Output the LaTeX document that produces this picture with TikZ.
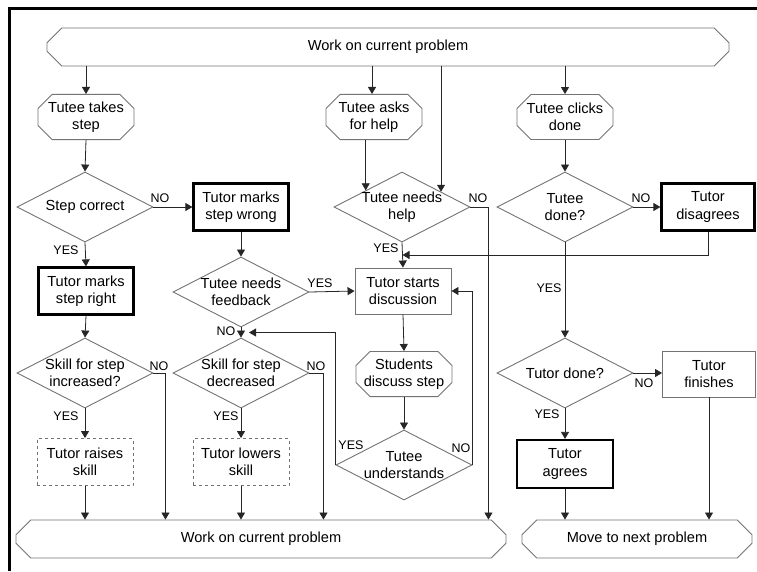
\documentclass[tikz,border=0pt]{standalone}
\usepackage{fontspec}
\setmainfont{Liberation Sans}
\usetikzlibrary{shapes.geometric,shapes.misc,arrows.meta,calc}
\begin{document}
\begin{tikzpicture}[x=1pt,y=-1pt,
  mainf/.style={font=\fontsize{14.6}{17.5}\selectfont, align=center},
  lab/.style={font=\fontsize{12.5}{14}\selectfont, inner sep=0pt},
  shapeline/.style={draw=black!55, line width=0.9pt},
  bar/.style={chamfered rectangle, chamfered rectangle xsep=7pt, chamfered rectangle ysep=8pt, shapeline, mainf, minimum height=38pt, inner sep=0pt},
  oct/.style={chamfered rectangle, chamfered rectangle xsep=7pt, chamfered rectangle ysep=7pt, shapeline, mainf, minimum width=96pt, minimum height=45pt, inner sep=0pt},
  box/.style={rectangle, shapeline, mainf, minimum width=95pt, minimum height=47pt, inner sep=0pt},
  tbox/.style={box, draw=black, line width=2.2pt},
  dbox/.style={box, dashed},
  dia/.style={diamond, shapeline, minimum width=136pt, minimum height=70pt, inner sep=0pt},
  arr/.style={draw=black!85, line width=0.8pt, -{Triangle[length=7pt,width=8pt]}},
  conn/.style={draw=black!85, line width=0.8pt}
]
\useasboundingbox (0,0) rectangle (757,571);
\draw[line width=3pt] (9,571) -- (9,8) -- (758,8);

% bars
\node[bar, minimum width=682pt] (top) at (388,47) {Work on current problem};
\node[bar, minimum width=490pt] (bot1) at (261,539) {Work on current problem};
\node[bar, minimum width=230pt] (bot2) at (637,539) {Move to next problem};

% octagons
\node[oct] (takes) at (86,117) {Tutee takes\\step};
\node[oct] (asks) at (374,117) {Tutee asks\\for help};
\node[oct] (clicks) at (565,117) {Tutee clicks\\done};
\node[oct] (stud) at (404,374) {Students\\discuss step};

% diamonds
\node[dia, label={[mainf]center:Step correct}] (stepc) at (85,207) {};
\node[dia, label={[mainf]center:Tutee needs\\feedback}] (fb) at (241,292) {};
\node[dia, label={[mainf]center:Skill for step\\increased?}] (inc) at (85,373) {};
\node[dia, label={[mainf]center:Skill for step\\decreased}] (dec) at (241,373) {};
\node[dia, label={[mainf]center:Tutee needs\\help}] (help) at (402,207) {};
\node[dia, label={[mainf]center:Tutee\\understands}] (und) at (404,465) {};
\node[dia, label={[mainf]center:Tutee\\done?}] (done) at (565,207) {};
\node[dia, label={[mainf]center:Tutor done?}] (tdone) at (565,373) {};

% boxes
\node[tbox] (wrong) at (241,207) {Tutor marks\\step wrong};
\node[tbox] (right) at (86,291) {Tutor marks\\step right};
\node[dbox, minimum width=96pt] (raise) at (85,462) {Tutor raises\\skill};
\node[dbox, minimum width=96pt] (lower) at (241,462) {Tutor lowers\\skill};
\node[box, minimum width=96pt, minimum height=46pt] (disc) at (403,291) {Tutor starts\\discussion};
\node[tbox, minimum width=93pt] (disag) at (708,207) {Tutor\\disagrees};
\node[box, minimum width=93pt, minimum height=46pt] (fin) at (709,374) {Tutor\\finishes};
\node[tbox, minimum width=96pt, minimum height=48pt] (agree) at (565,464) {Tutor\\agrees};

% helper coordinates
\coordinate (hl) at ($(help.north)!0.53!(help.west)$);
\coordinate (hr) at ($(help.north)!0.57!(help.east)$);
\coordinate (j1) at ($(help.south)!0.5!(disc.north)$);
\coordinate (j2) at ($(fb.south)!0.5!(dec.north)$);
\coordinate (j2e) at ($(j2)+(8,0)$);
\coordinate (n1) at ($(inc.east)+(12,0)$);
\coordinate (n2) at ($(dec.east)+(14,0)$);
\coordinate (n3) at ($(help.east)+(18,0)$);

% connectors from top bar
\draw[arr] (top.south -| takes.north) -- (takes.north);
\draw[arr] (top.south -| 372,0) -- (asks.north -| 372,0);
\draw[arr] (top.south -| hr) -- (hr);
\draw[arr] (top.south -| clicks.north) -- (clicks.north);

% left column
\draw[arr] (takes.south) -- (stepc.north);
\draw[arr] (stepc.east) -- (wrong.west);
\draw[arr] (stepc.south) -- (right.north);
\draw[arr] (right.south) -- (inc.north);
\draw[arr] (inc.south) -- (raise.north);
\draw[arr] (raise.south) -- (bot1.north -| raise.south);
\draw[arr] (inc.east) -- (n1) -- (bot1.north -| n1);

% second column
\draw[arr] (wrong.south) -- (fb.north);
\draw[arr] (fb.east) -- (disc.west);
\draw[arr] (fb.south) -- (dec.north);
\draw[arr] (dec.south) -- (lower.north);
\draw[arr] (lower.south) -- (bot1.north -| lower.south);
\draw[arr] (dec.east) -- (n2) -- (bot1.north -| n2);

% help column
\draw[arr] (asks.south -| hl) -- (hl);
\draw[arr] (help.south) -- (disc.north);
\draw[arr] (help.east) -- (n3) -- (bot1.north -| n3);
\draw[arr] (disc.south) -- (stud.north);
\draw[arr] (stud.south) -- (und.north);
\draw[arr] (und.west) |- (j2e);
\draw[arr] (und.east) |- (disc.east);

% right columns
\draw[arr] (clicks.south) -- (done.north);
\draw[arr] (done.east) -- (disag.west);
\draw[arr] (disag.south) |- (j1);
\draw[arr] (done.south) -- (tdone.north);
\draw[arr] (tdone.east) -- (fin.west |- tdone.east);
\draw[arr] (tdone.south) -- (agree.north);
\draw[arr] (agree.south) -- (bot2.north -| agree.south);
\draw[arr] (fin.south) -- (bot2.north -| fin.south);

% labels
\node[lab] (l1) at (160,198) {NO};
\node[lab] (l2) at (66,250) {YES};
\node[lab] (l3) at (320,283) {YES};
\node[lab] (l4) at (226,331) {NO};
\node[lab] (l5) at (159,366) {NO};
\node[lab] (l6) at (66,416) {YES};
\node[lab] (l7) at (316,366) {NO};
\node[lab] (l8) at (226,416) {YES};
\node[lab] (l9) at (478,198) {NO};
\node[lab] (l10) at (386,248) {YES};
\node[lab] (l11) at (351,445) {YES};
\node[lab] (l12) at (461,448) {NO};
\node[lab] (l13) at (641,198) {NO};
\node[lab] (l14) at (549,288) {YES};
\node[lab] (l15) at (644,383) {NO};
\node[lab] (l16) at (547,414) {YES};
\end{tikzpicture}
\end{document}
